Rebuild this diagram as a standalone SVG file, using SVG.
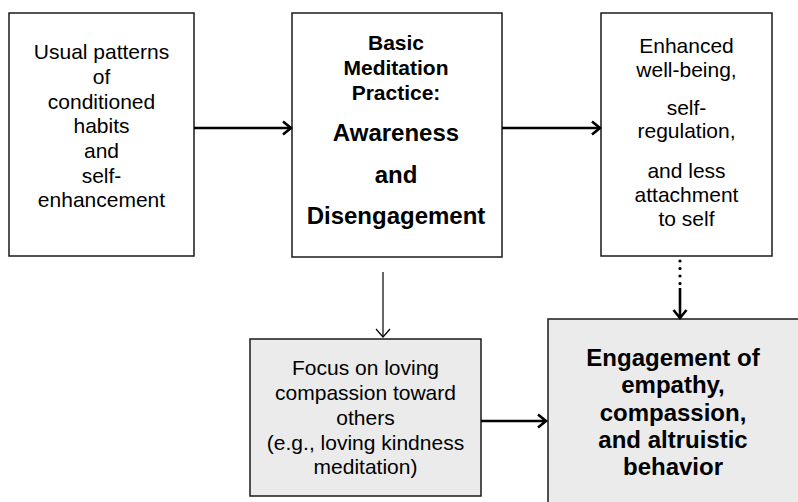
<svg xmlns="http://www.w3.org/2000/svg" width="798" height="502" viewBox="0 0 798 502">
<defs>
<style>
.box{fill:#ffffff;stroke:#1a1a1a;stroke-width:1.5}
.gbox{fill:#ebebeb;stroke:#1a1a1a;stroke-width:1.5}
.t{font-family:"Liberation Sans",Arial,sans-serif;font-size:21px;fill:#000;text-anchor:middle}
.b{font-weight:bold}
.big{font-size:24px}
.thick{stroke:#000;stroke-width:2.6;fill:none}
.thin{stroke:#000;stroke-width:1.2;fill:none}
</style>
<marker id="ah" markerUnits="userSpaceOnUse" markerWidth="14" markerHeight="16" refX="10" refY="8" orient="auto">
<path d="M2,1.5 L10,8 L2,14.5" fill="none" stroke="#000" stroke-width="2.6"/>
</marker>
<marker id="ahThin" markerUnits="userSpaceOnUse" markerWidth="14" markerHeight="16" refX="10" refY="8" orient="auto">
<path d="M2,1 L10,8 L2,15" fill="none" stroke="#000" stroke-width="1.2"/>
</marker>
</defs>
<rect width="798" height="502" fill="#ffffff"/>
<g id="node-usual">
<rect class="box" x="9" y="13" width="185" height="243"/>
<text class="t" x="101.5" y="59">Usual patterns</text>
<text class="t" x="101.5" y="84">of</text>
<text class="t" x="101.5" y="108.5">conditioned</text>
<text class="t" x="101.5" y="133">habits</text>
<text class="t" x="101.5" y="158">and</text>
<text class="t" x="101.5" y="182.5">self-</text>
<text class="t" x="101.5" y="207">enhancement</text>
</g>
<g id="node-basic">
<rect class="box" x="292" y="13" width="210" height="244"/>
<text class="t b" x="396" y="50">Basic</text>
<text class="t b" x="396" y="75">Meditation</text>
<text class="t b" x="396" y="100">Practice:</text>
<text class="t b big" x="396" y="141">Awareness</text>
<text class="t b big" x="396" y="183">and</text>
<text class="t b big" x="396" y="224">Disengagement</text>
</g>
<g id="node-enhanced">
<rect class="box" x="601" y="13" width="171" height="243"/>
<text class="t" x="686.5" y="53">Enhanced</text>
<text class="t" x="686.5" y="77">well-being,</text>
<text class="t" x="686.5" y="115">self-</text>
<text class="t" x="686.5" y="138">regulation,</text>
<text class="t" x="686.5" y="178">and less</text>
<text class="t" x="686.5" y="202">attachment</text>
<text class="t" x="686.5" y="226">to self</text>
</g>
<g id="node-focus">
<rect class="gbox" x="250" y="339" width="231" height="157"/>
<text class="t" x="365.5" y="375">Focus on loving</text>
<text class="t" x="365.5" y="400">compassion toward</text>
<text class="t" x="365.5" y="425">others</text>
<text class="t" x="365.5" y="450">(e.g., loving kindness</text>
<text class="t" x="365.5" y="474">meditation)</text>
</g>
<g id="node-engagement">
<rect class="gbox" x="548" y="319" width="254" height="190"/>
<text class="t b big" x="673" y="366">Engagement of</text>
<text class="t b big" x="673" y="393">empathy,</text>
<text class="t b big" x="673" y="420.5">compassion,</text>
<text class="t b big" x="673" y="448">and altruistic</text>
<text class="t b big" x="673" y="475">behavior</text>
</g>
<g id="connectors">
<line class="thick" x1="194" y1="128" x2="291" y2="128" marker-end="url(#ah)"/>
<line class="thick" x1="502" y1="128" x2="600" y2="128" marker-end="url(#ah)"/>
<line class="thin" x1="383" y1="272" x2="383" y2="337" marker-end="url(#ahThin)"/>
<line class="thick" x1="481" y1="421" x2="546" y2="421" marker-end="url(#ah)"/>
<g fill="#000">
<circle cx="680" cy="261" r="1.6"/>
<circle cx="680" cy="268.5" r="1.6"/>
<circle cx="680" cy="276" r="1.6"/>
<circle cx="680" cy="283.5" r="1.6"/>
</g>
<line class="thick" x1="680" y1="288" x2="680" y2="318" marker-end="url(#ah)"/>
</g>
</svg>
